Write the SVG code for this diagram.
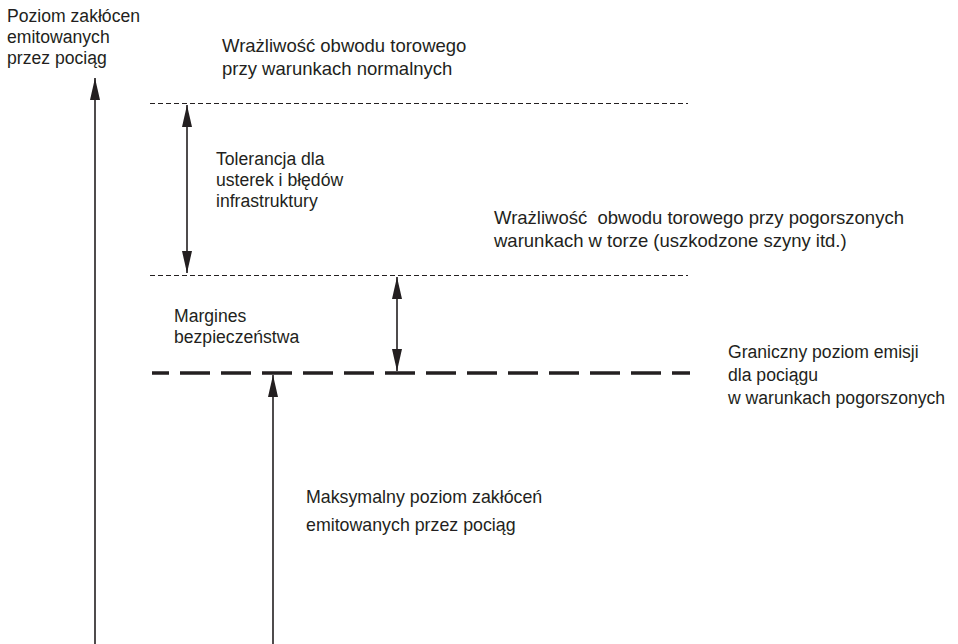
<svg xmlns="http://www.w3.org/2000/svg" width="958" height="644" viewBox="0 0 958 644">
<defs>
<style>
text{font-family:"Liberation Sans",Arial,sans-serif;font-size:17.6px;fill:#231f20}
.lg{font-size:18.5px}
.md{font-size:17.8px}
.ln{stroke:#231f20;stroke-width:1.6;fill:none}
.thin{stroke:#231f20;stroke-width:1;stroke-dasharray:5 3;fill:none}
.thick{stroke:#231f20;stroke-width:3.5;stroke-dasharray:30 11;stroke-dashoffset:13;fill:none}
</style>
<marker id="ah" markerUnits="userSpaceOnUse" markerWidth="22" markerHeight="10" refX="22" refY="5" orient="auto-start-reverse" viewBox="0 0 22 10">
<path d="M0,0 L22,5 L0,10 Z" fill="#231f20"/>
</marker>
</defs>
<rect width="958" height="644" fill="#fff"/>
<g id="levels">
<line class="thin" x1="150" y1="103.5" x2="688" y2="103.5"/>
<line class="thin" x1="150" y1="275.5" x2="688" y2="275.5"/>
<line class="thick" x1="152" y1="373" x2="690" y2="373"/>
</g>
<g id="connectors">
<line class="ln" x1="95" y1="644" x2="95" y2="78" marker-end="url(#ah)"/>
<line class="ln" x1="187" y1="105" x2="187" y2="273" marker-start="url(#ah)" marker-end="url(#ah)"/>
<line class="ln" x1="397" y1="277" x2="397" y2="371" marker-start="url(#ah)" marker-end="url(#ah)"/>
<line class="ln" x1="273" y1="644" x2="273" y2="375" marker-end="url(#ah)"/>
</g>
<g id="axis-label">
<text x="7" y="22">Poziom zakłócen</text>
<text x="7" y="43">emitowanych</text>
<text x="7" y="64">przez pociąg</text>
</g>
<g id="normal-label">
<text class="lg" x="222" y="52">Wrażliwość obwodu torowego</text>
<text class="lg" x="222" y="75">przy warunkach normalnych</text>
</g>
<g id="tolerance-label">
<text x="216" y="165">Tolerancja dla</text>
<text x="216" y="186">usterek i błędów</text>
<text x="216" y="207">infrastruktury</text>
</g>
<g id="degraded-label">
<text class="lg" x="494" y="224" xml:space="preserve">Wrażliwość  obwodu torowego przy pogorszonych</text>
<text class="lg" x="494" y="247">warunkach w torze (uszkodzone szyny itd.)</text>
</g>
<g id="margin-label">
<text x="174" y="322">Margines</text>
<text x="174" y="343">bezpieczeństwa</text>
</g>
<g id="limit-label">
<text x="728" y="358">Graniczny poziom emisji</text>
<text x="728" y="381">dla pociągu</text>
<text x="728" y="404">w warunkach pogorszonych</text>
</g>
<g id="max-label">
<text class="md" x="306" y="503">Maksymalny poziom zakłóceń</text>
<text class="md" x="306" y="531">emitowanych przez pociąg</text>
</g>
</svg>
